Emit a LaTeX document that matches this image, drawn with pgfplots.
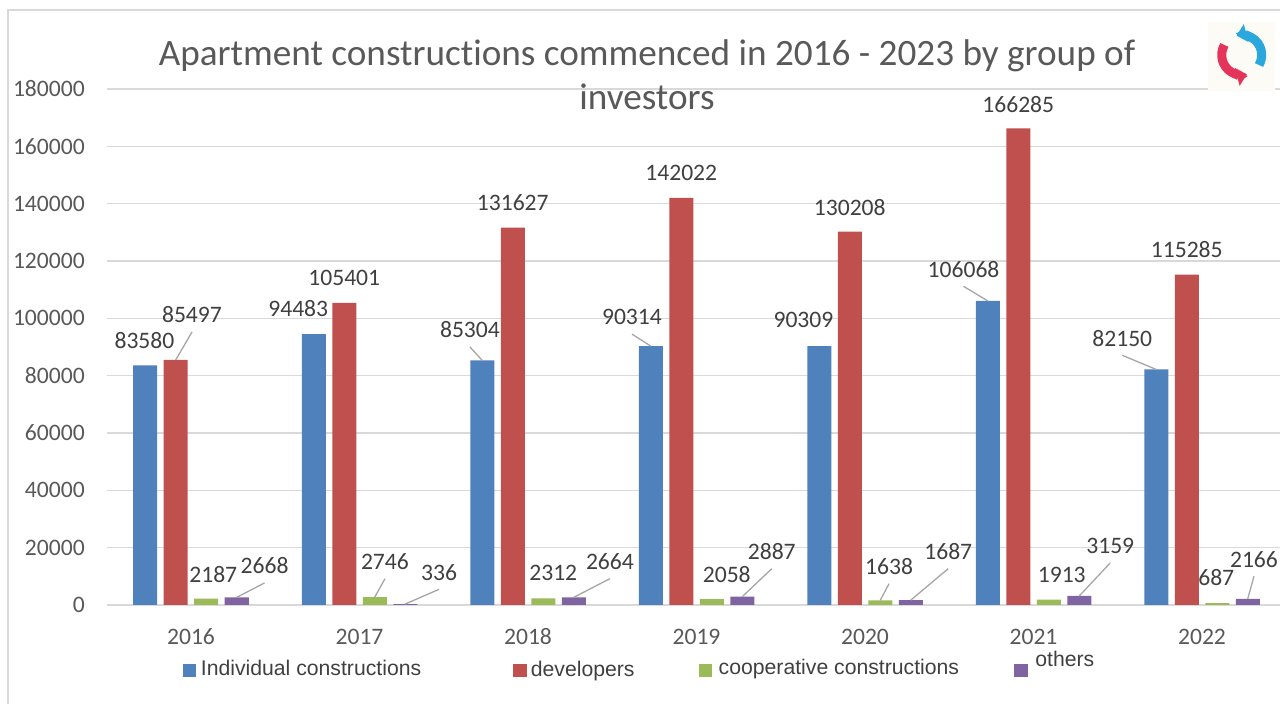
\documentclass[border=0pt]{standalone}
\usepackage{pgfplots}
\pgfplotsset{compat=1.18}
\usepackage{pgfplotstable}
\usepackage{fontspec}
\setmainfont{Carlito}[Ligatures={NoCommon}]
\newfontfamily\legfont{Liberation Sans}
\usetikzlibrary{arrows.meta}
\definecolor{cblue}{HTML}{4F81BD}
\definecolor{cred}{HTML}{C0504D}
\definecolor{cgreen}{HTML}{9BBB59}
\definecolor{cpurple}{HTML}{8064A2}
\definecolor{gridgray}{HTML}{D9D9D9}
\definecolor{ticktext}{HTML}{595959}
\definecolor{labtext}{HTML}{404040}
\definecolor{leadgray}{HTML}{A6A6A6}
\definecolor{logobg}{HTML}{FDFBF6}
\definecolor{logoblue}{HTML}{2AA7DC}
\definecolor{logored}{HTML}{E5345A}
\newcommand\labfont{\fontsize{11.8}{14}\selectfont}

% x = year index, y = value, dx/dy = label offset (pt) from bar top, lead = leader line
\pgfplotstableread{
x y dx dy lead
0 83580 -0.4 12.65 0
1 94483 -7.75 12.85 0
2 85304 -6.15 15.25 1
3 90314 -9.4 14.5 1
4 90309 -7.9 13.0 0
5 106068 -12.1 15.8 1
6 82150 -17.0 15.6 1
}\tblue
\pgfplotstableread{
x y dx dy lead
0 85497 8.1 22.45 1
1 105401 0 12.5 0
2 131627 0 12.5 0
3 142022 0 12.5 0
4 130208 0 12.0 0
5 166285 0 12.0 0
6 115285 0 12.5 0
}\tred
\pgfplotstableread{
x y dx dy lead
0 2187 3.5 11.85 0
1 2746 5.1 17.7 1
2 2312 5.0 12.5 0
3 2058 7.5 12.5 0
4 1638 4.4 16.8 1
5 1913 6.5 12.25 0
6 687 -0.5 12.65 0
}\tgreen
\pgfplotstableread{
x y dx dy lead
0 2668 13.9 15.7 1
1 336 16.9 15.85 1
2 2664 18.1 17.85 1
3 2887 14.75 22.5 1
4 1687 18.75 24.25 1
5 3159 15.5 25.0 1
6 2166 3.1 19.75 1
}\tpurple

\pgfplotsset{
  barstyle/.style={ybar, bar width=12pt, draw=none},
  labstyle/.style={draw=none, no markers,
    nodes near coords={\pgfmathprintnumber[fixed,precision=0,1000 sep={},assume math mode=true]{\pgfplotspointmeta}},
    nodes near coords align={center},
    visualization depends on={\thisrow{dx} \as \ddx},
    visualization depends on={\thisrow{dy} \as \ddy},
    every node near coord/.append style={font=\labfont, text=labtext, inner sep=0pt, anchor=center, xshift=\ddx pt, yshift=\ddy pt},
  },
  leadstyle/.style={draw=leadgray, line width=0.65pt, no markers,
    quiver={u=\thisrow{dx}/84.25, v=(\thisrow{dy}-8.5)*697.674},
    restrict expr to domain={\thisrow{lead}}{0.5:1.5}},
}

\begin{document}
\begin{tikzpicture}
\useasboundingbox (0,0) rectangle (640pt,352pt);
\fill[white] (0,0) rectangle (640pt,352pt);
\draw[gridgray, line width=0.6pt] (4pt,-5pt) -- (4pt,347pt) -- (645pt,347pt);
\begin{axis}[
  at={(53.375pt,49.5pt)}, anchor=south west,
  scale only axis, width=589.75pt, height=258pt,
  xmin=-0.5, xmax=6.5, ymin=0, ymax=180000,
  clip=false,
  axis line style={draw=none},
  major tick length=0pt,
  xtick={0,...,6}, xticklabels={2016,2017,2018,2019,2020,2021,2022},
  ytick={0,20000,...,180000},
  ymajorgrids, major grid style={gridgray, line width=0.75pt},
  scaled y ticks=false,
  /pgf/number format/fixed,
  /pgf/number format/precision=0,
  /pgf/number format/1000 sep={},
  /pgf/number format/assume math mode=true,
  tick label style={font=\labfont, text=ticktext},
  yticklabel style={anchor=east, xshift=-7.45pt},
  xticklabel style={anchor=center, yshift=-15.85pt},
]
\addplot[barstyle, fill=cblue, bar shift=-22.875pt] table[x=x, y=y] {\tblue};
\addplot[barstyle, fill=cred, bar shift=-7.625pt] table[x=x, y=y] {\tred};
\addplot[barstyle, fill=cgreen, bar shift=7.625pt] table[x=x, y=y] {\tgreen};
\addplot[barstyle, fill=cpurple, bar shift=22.875pt] table[x=x, y=y] {\tpurple};
\addplot[leadstyle] table[x expr=\thisrow{x}-0.27151, y=y] {\tblue};
\addplot[leadstyle] table[x expr=\thisrow{x}-0.09050, y=y] {\tred};
\addplot[leadstyle] table[x expr=\thisrow{x}+0.09050, y=y] {\tgreen};
\addplot[leadstyle] table[x expr=\thisrow{x}+0.27151, y=y] {\tpurple};
\addplot[labstyle] table[x expr=\thisrow{x}-0.27151, y=y] {\tblue};
\addplot[labstyle] table[x expr=\thisrow{x}-0.09050, y=y] {\tred};
\addplot[labstyle] table[x expr=\thisrow{x}+0.09050, y=y] {\tgreen};
\addplot[labstyle] table[x expr=\thisrow{x}+0.27151, y=y] {\tpurple};
\end{axis}
% title
\node[anchor=base, inner sep=0pt, text=ticktext, font=\fontsize{18.6}{22}\selectfont] at (323.5pt,319pt) {Apartment constructions commenced in 2016 - 2023 by group of};
\node[anchor=base, inner sep=0pt, text=ticktext, font=\fontsize{18.6}{22}\selectfont] at (323.5pt,297pt) {investors};
% legend
\fill[cblue] (91.25pt,13.5pt) rectangle (97.75pt,20pt);
\node[anchor=base west, inner sep=0pt, text=labtext, font=\legfont\fontsize{10.6}{13}\selectfont] at (100.25pt,14pt) {Individual constructions};
\fill[cred] (256.5pt,13.5pt) rectangle (263.25pt,20pt);
\node[anchor=base west, inner sep=0pt, text=labtext, font=\legfont\fontsize{10.6}{13}\selectfont] at (265.25pt,13.5pt) {developers};
\fill[cgreen] (349.25pt,13.5pt) rectangle (356pt,20pt);
\node[anchor=base west, inner sep=0pt, text=labtext, font=\legfont\fontsize{10.6}{13}\selectfont] at (359.15pt,14.5pt) {cooperative constructions};
\fill[cpurple] (507pt,13.5pt) rectangle (513.75pt,20pt);
\node[anchor=base west, inner sep=0pt, text=labtext, font=\legfont\fontsize{10.6}{13}\selectfont] at (517.5pt,18.5pt) {others};
% logo
\fill[logobg] (604pt,306.65pt) rectangle (637.5pt,341.15pt);
\draw[logoblue, line width=4.5pt, -{Triangle[width=9pt,length=5pt]}] (620.85pt,324.5pt) ++(-30:10pt) arc[start angle=-30, end angle=105, radius=10pt];
\draw[logored, line width=4.5pt, -{Triangle[width=9pt,length=5pt]}] (620.85pt,324.5pt) ++(150:10pt) arc[start angle=150, end angle=285, radius=10pt];
\end{tikzpicture}
\end{document}
